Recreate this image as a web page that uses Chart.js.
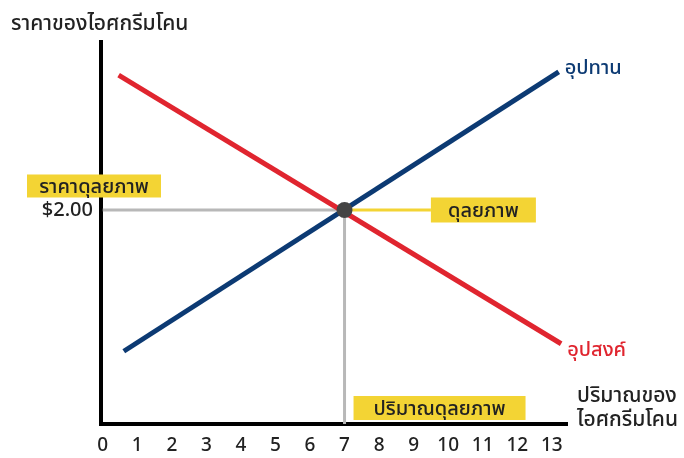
<!DOCTYPE html>
<html>
<head>
<meta charset="utf-8">
<script src="https://cdn.jsdelivr.net/npm/chart.js@4.4.1/dist/chart.umd.min.js"></script>
<style>
  html, body { margin: 0; padding: 0; background: #fff; }
  #wrap { width: 684px; height: 458px; position: relative; }
</style>
</head>
<body>
<div id="wrap"><canvas id="chart"></canvas></div>
<script>
// quantity ticks along the bottom
const qtyTicks = [0, 1, 2, 3, 4, 5, 6, 7, 8, 9, 10, 11, 12, 13];
// demand (อุปสงค์) and supply (อุปทาน) end points
const demandX = [0.46, 13.27];
const demandY = [3.26, 0.75];
const supplyX = [0.61, 13.2];
const supplyY = [0.68, 3.29];
// equilibrium
const eqQty = 7;
const eqPrice = 2.0;
const eqPriceLabel = '$2.00';
const eqTagEnd = 9.5;

const FONT = "'Noto Sans', 'Noto Sans Thai', 'Tahoma', sans-serif";
const RED = '#e0252f';
const NAVY = '#0c3a73';
const GRAY = '#b8b8b8';
const YELLOW = '#f3d434';

function pts(xs, ys) {
    return xs.map((x, i) => ({x: x, y: ys[i]}));
}

const labelPlugin = {
    id: 'labels',
    afterDatasetsDraw(chart) {
        const ctx = chart.ctx;
        const xs = chart.scales.x;
        const ys = chart.scales.y;
        ctx.save();
        ctx.textBaseline = 'middle';

        function box(text, x1, x2, yc, h) {
            ctx.fillStyle = YELLOW;
            ctx.fillRect(x1, yc - h / 2, x2 - x1, h);
            ctx.fillStyle = '#222';
            ctx.font = '500 20px ' + FONT;
            ctx.textAlign = 'center';
            ctx.fillText(text, (x1 + x2) / 2, yc + 1);
        }

        // axis titles
        ctx.fillStyle = '#222';
        ctx.font = '500 21px ' + FONT;
        ctx.textAlign = 'left';
        ctx.fillText('ราคาของไอศกรีมโคน', 11, 24);
        ctx.fillText('ปริมาณของ', 577, 396);
        ctx.fillText('ไอศกรีมโคน', 577, 420);

        const py = ys.getPixelForValue(eqPrice);
        const px = xs.getPixelForValue(eqQty);
        box('ราคาดุลยภาพ', 27, 161, py - 24, 23);
        box('ดุลยภาพ', xs.getPixelForValue(eqTagEnd), xs.getPixelForValue(eqTagEnd) + 105, py, 25);
        box('ปริมาณดุลยภาพ', px + 9, px + 181, ys.getPixelForValue(0) - 16, 24);

        // line names
        ctx.font = '500 20px ' + FONT;
        ctx.textAlign = 'left';
        ctx.fillStyle = NAVY;
        ctx.fillText('อุปทาน', xs.getPixelForValue(supplyX[1]) + 6, ys.getPixelForValue(supplyY[1]) - 4);
        ctx.fillStyle = RED;
        ctx.fillText('อุปสงค์', xs.getPixelForValue(demandX[1]) + 6, ys.getPixelForValue(demandY[1]) + 7);
        ctx.restore();
    }
};

new Chart(document.getElementById('chart'), {
    type: 'scatter',
    data: {
        datasets: [
            {
                label: 'จุดดุลยภาพ',
                data: [{x: eqQty, y: eqPrice}],
                pointRadius: 8,
                pointBackgroundColor: '#444',
                pointBorderWidth: 0,
                order: 0
            },
            {
                label: 'อุปสงค์',
                data: pts(demandX, demandY),
                showLine: true,
                borderColor: RED,
                borderWidth: 5,
                pointRadius: 0,
                order: 1
            },
            {
                label: 'อุปทาน',
                data: pts(supplyX, supplyY),
                showLine: true,
                borderColor: NAVY,
                borderWidth: 5,
                pointRadius: 0,
                order: 2
            },
            {
                label: 'ดุลยภาพ',
                data: [{x: eqQty, y: eqPrice}, {x: eqTagEnd, y: eqPrice}],
                showLine: true,
                borderColor: YELLOW,
                borderWidth: 3,
                pointRadius: 0,
                order: 3
            },
            {
                label: 'เส้นนำ',
                data: [{x: 0, y: eqPrice}, {x: eqQty, y: eqPrice}, {x: eqQty, y: 0}],
                showLine: true,
                borderColor: GRAY,
                borderWidth: 3,
                pointRadius: 0,
                order: 4
            }
        ]
    },
    options: {
        responsive: true,
        maintainAspectRatio: false,
        animation: false,
        layout: { padding: { left: 0, top: 42, right: 117, bottom: 0 } },
        plugins: {
            legend: { display: false },
            tooltip: { enabled: false }
        },
        scales: {
            x: {
                type: 'linear',
                min: -0.05,
                max: 13.44,
                afterBuildTicks(scale) { scale.ticks = qtyTicks.map(v => ({value: v})); },
                afterFit(scale) { scale.height = 34; },
                grid: { display: false, drawTicks: false },
                border: { display: true, color: '#000', width: 4 },
                ticks: {
                    autoSkip: false,
                    maxRotation: 0,
                    padding: 10,
                    color: '#222',
                    font: { family: FONT, size: 19, weight: '500' }
                }
            },
            y: {
                type: 'linear',
                min: 0,
                max: 3.57,
                afterBuildTicks(scale) { scale.ticks = [{value: eqPrice}]; },
                afterFit(scale) { scale.width = 101; },
                grid: { display: false, drawTicks: false },
                border: { display: true, color: '#000', width: 4 },
                ticks: {
                    padding: 8,
                    color: '#222',
                    font: { family: FONT, size: 20, weight: '500' },
                    callback: () => eqPriceLabel
                }
            }
        }
    },
    plugins: [labelPlugin]
});
</script>
</body>
</html>
